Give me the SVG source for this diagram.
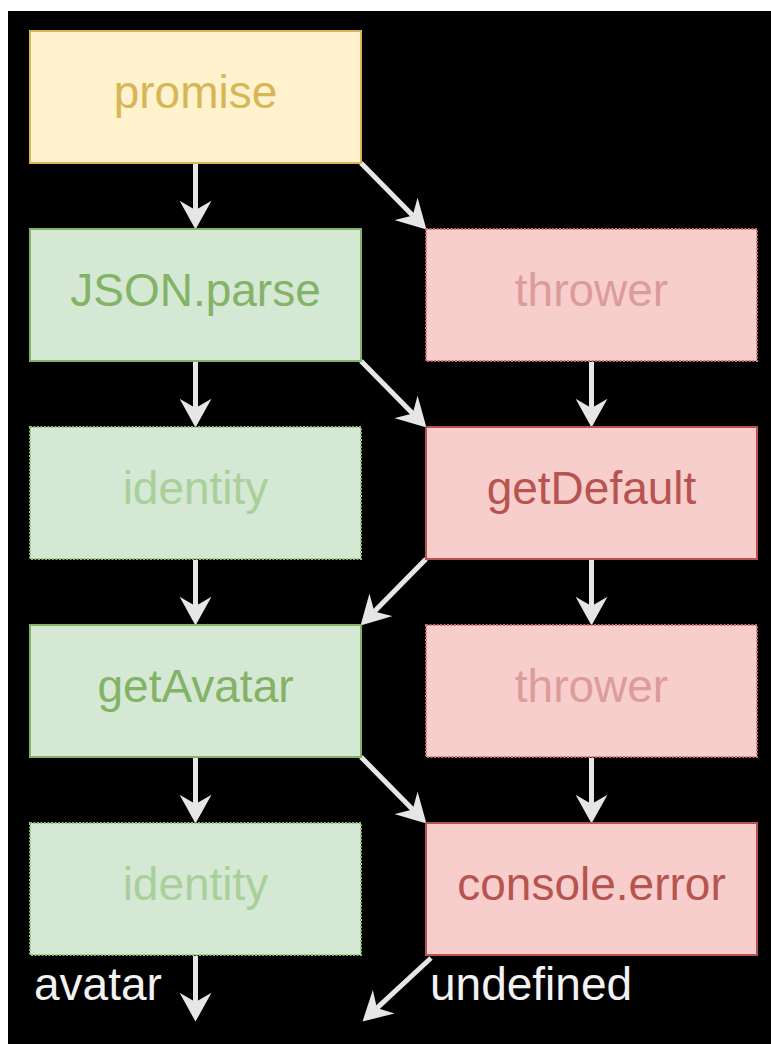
<svg xmlns="http://www.w3.org/2000/svg" width="771" height="1044" viewBox="0 0 771 1044">
<style>
.box{stroke-width:2}
.yel{fill:#fff2cc;stroke:#d6b656}
.grn{fill:#d5e8d4;stroke:#82b366}
.red{fill:#f8cecc;stroke:#b85450}
.dot{stroke-dasharray:2 1.5}
.red.dot{stroke:#c7716d}
.grn.dot{stroke:#8fbf78}
text{font-family:"Liberation Sans",Arial,Helvetica,sans-serif;font-size:46px}
.lbl{text-anchor:middle}
.ty{fill:#d6b656}
.tg{fill:#82b366}
.tr{fill:#b85450}
.tgf{fill:#a9d09b}
.trf{fill:#dc9c9b}
.out{fill:#f2f2f2}
.edge{stroke:#e6e6e6;stroke-width:5;fill:none;marker-end:url(#ah)}
</style>
<defs>
<marker id="ah" markerUnits="userSpaceOnUse" markerWidth="30" markerHeight="32" viewBox="0 0 28 31" refX="9" refY="15.5" orient="auto">
<path d="M0,0 L28,15.5 L0,31 L9,15.5 Z" fill="#e6e6e6"/>
</marker>
</defs>
<rect x="0" y="0" width="771" height="1044" fill="#ffffff"/>
<rect x="8" y="11" width="763" height="1033" fill="#000000"/>

<g id="connectors">
<line class="edge" x1="195.5" y1="164" x2="195.5" y2="210"/>
<line class="edge" x1="361" y1="163" x2="412.7" y2="215.5"/>
<line class="edge" x1="195.5" y1="362" x2="195.5" y2="408"/>
<line class="edge" x1="361" y1="361" x2="412.7" y2="413.5"/>
<line class="edge" x1="591.5" y1="362" x2="591.5" y2="408"/>
<line class="edge" x1="195.5" y1="560" x2="195.5" y2="606"/>
<line class="edge" x1="426" y1="559" x2="374.3" y2="611.5"/>
<line class="edge" x1="591.5" y1="560" x2="591.5" y2="606"/>
<line class="edge" x1="195.5" y1="758" x2="195.5" y2="804"/>
<line class="edge" x1="361" y1="757" x2="412.7" y2="809.5"/>
<line class="edge" x1="591.5" y1="758" x2="591.5" y2="804"/>
<line class="edge" x1="195.5" y1="956" x2="195.5" y2="1002"/>
<line class="edge" x1="431" y1="958" x2="376.9" y2="1008.1"/>
</g>

<g id="promise"><rect class="box yel" x="30" y="31" width="331" height="132"/><text class="lbl ty" x="195.5" y="108">promise</text></g>
<g id="json-parse"><rect class="box grn" x="30" y="229" width="331" height="132"/><text class="lbl tg" x="195.5" y="306">JSON.parse</text></g>
<g id="thrower-1"><rect class="box red dot" x="426" y="229" width="331" height="132"/><text class="lbl trf" x="591.5" y="306">thrower</text></g>
<g id="identity-1"><rect class="box grn dot" x="30" y="427" width="331" height="132"/><text class="lbl tgf" x="195.5" y="504">identity</text></g>
<g id="getDefault"><rect class="box red" x="426" y="427" width="331" height="132"/><text class="lbl tr" x="591.5" y="504">getDefault</text></g>
<g id="getAvatar"><rect class="box grn" x="30" y="625" width="331" height="132"/><text class="lbl tg" x="195.5" y="702">getAvatar</text></g>
<g id="thrower-2"><rect class="box red dot" x="426" y="625" width="331" height="132"/><text class="lbl trf" x="591.5" y="702">thrower</text></g>
<g id="identity-2"><rect class="box grn dot" x="30" y="823" width="331" height="132"/><text class="lbl tgf" x="195.5" y="900">identity</text></g>
<g id="console-error"><rect class="box red" x="426" y="823" width="331" height="132"/><text class="lbl tr" x="591.5" y="900">console.error</text></g>

<g id="out-labels">
<text class="out" x="34" y="1000">avatar</text>
<text class="out" x="430" y="1000">undefined</text>
</g>
</svg>
